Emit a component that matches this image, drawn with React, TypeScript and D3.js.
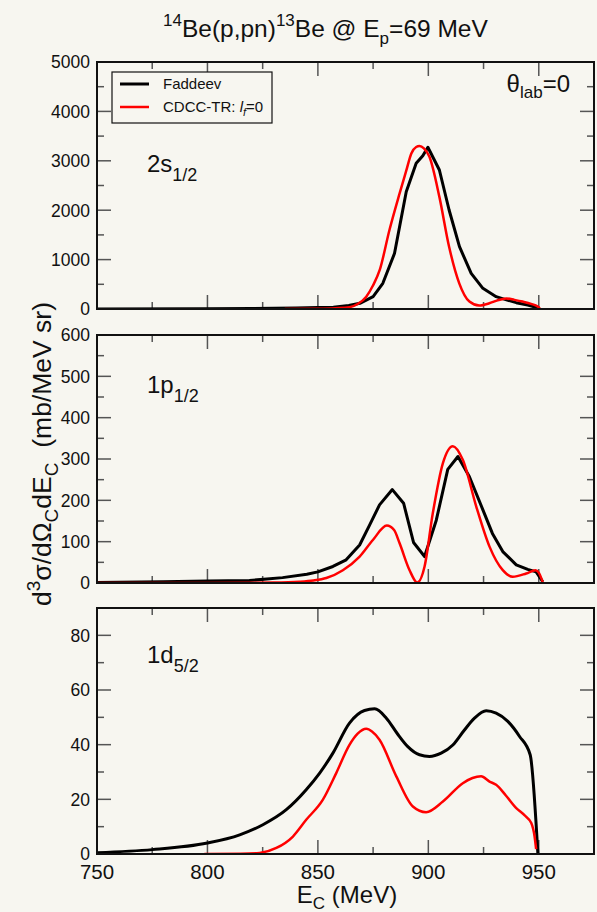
import React from 'react';
import * as d3 from 'd3';

const W = 597;
const H = 912;
const BG = '#f7f6f0';
const FONT = '"Liberation Sans", Arial, Helvetica, sans-serif';

const xDomain: [number, number] = [750, 975];
const xMajorTicks = [750, 800, 850, 900, 950];
const xMinorTicks = [775, 825, 875, 925];

// Panel 1: 2s1/2
const s12Faddeev: [number, number][] = [
  [750, 0], [800, 5], [820, 10], [840, 20], [850, 28], [857, 35], [864, 70], [869, 115], [875, 250],
  [879.4, 520], [884.7, 1127], [890, 2375], [894.5, 2950], [897.5, 3100], [899.8, 3275], [905, 2814],
  [909.4, 2004], [914.1, 1261], [919.4, 722], [924.7, 418], [930.7, 250], [935, 190], [939.8, 128],
  [945, 80], [950.3, 15],
];
const s12Cdcc: [number, number][] = [
  [835, 0], [850, 5], [858, 15], [864.3, 35], [868, 100], [871.9, 250], [875, 480], [878, 790],
  [882.4, 1600], [887, 2340], [890, 2800], [892.3, 3150], [894.5, 3280], [896, 3300], [898, 3250],
  [900.5, 3080], [905, 2270], [909.4, 1260], [914, 520], [918.6, 150], [923, 70], [927.6, 115],
  [931, 170], [935.2, 215], [939, 185], [942.7, 150], [946.5, 105], [949.5, 50], [950.5, 10],
];

// Panel 2: 1p1/2
const p12Faddeev: [number, number][] = [
  [750, 1], [780, 3], [800, 5], [819, 6], [834, 13], [845, 21], [850, 27], [856.8, 40], [862.8, 56],
  [868.9, 92], [873.4, 140], [877.9, 189], [883.7, 226], [888.8, 193], [893.3, 98], [898.3, 64],
  [903.6, 152], [908.8, 275], [913.4, 306], [918.6, 257], [924.7, 177], [929, 120], [933.7, 76],
  [939.8, 44], [945, 33], [948.8, 27], [951.8, 3],
];
const p12Cdcc: [number, number][] = [
  [750, 0], [800, 0], [830, 1], [841.7, 3], [848, 6], [853.8, 12], [861.3, 31], [868.9, 64],
  [874.9, 104], [881.2, 139], [884.5, 128], [887, 96], [891.5, 31], [895, 1], [898.3, 40],
  [902, 168], [906.6, 290], [911.1, 331], [915.6, 298], [921.7, 185], [927.7, 88], [933.7, 31],
  [938.2, 15], [944.3, 23], [948.5, 31], [950, 25], [951.8, 2],
];

// Panel 3: 1d5/2
const d52Faddeev: [number, number][] = [
  [750, 0.5], [775, 1.6], [800, 4], [814.6, 7], [825.1, 10.7], [835.7, 16.2], [844.7, 23.5],
  [850.8, 29.6], [856.8, 36.9], [864.3, 47.9], [871.1, 52.5], [875.7, 53.1], [881, 49.7],
  [886, 44], [890.7, 39.3], [896, 36.3], [900.5, 35.7], [905.8, 36.9], [911.1, 39.9], [916, 45],
  [920.9, 49.7], [926.2, 52.4], [930.7, 51.5], [936, 48.5], [941.3, 43], [946.1, 36.3], [949.6, 0],
];
const d52Cdcc: [number, number][] = [
  [798.6, 0], [815, 0.1], [823.6, 0.4], [831.2, 2.2], [838.7, 6.4], [844.7, 12.5], [852.2, 19.8],
  [858.3, 29.6], [864.3, 39.9], [868, 44], [871.9, 45.8], [874.5, 44.8], [877.9, 41.8], [885.5, 28.4],
  [893, 17.4], [899, 15.3], [906.6, 19.2], [915.6, 25.9], [920, 27.8], [923.9, 28.4], [927.7, 26.5],
  [930.7, 25.3], [935, 21.5], [939.8, 16.8], [943.5, 14.2], [946.6, 11.3], [948.1, 6.4], [948.8, 1.8],
];

const panelTitles = ['2s', '1p', '1d'];
const panelSubs = ['1/2', '1/2', '5/2'];
const yMaxes = [5000, 600, 90];
const yMajorSteps = [1000, 100, 20];
const yMajorTopLimit = [5000, 600, 80];

const legendLabels = ['Faddeev', 'CDCC-TR: '];

const X0 = 97;
const X1 = 594;
const panelTops = [62, 335, 608];
const panelBottoms = [309, 583, 854];
const labelBaselines = [172, 393, 663];

const xScale = d3.scaleLinear().domain(xDomain).range([X0, X1]);

function Panel({ idx, faddeev, cdcc, smoothBlack }: { idx: number; faddeev: [number, number][]; cdcc: [number, number][]; smoothBlack: boolean }) {
  const top = panelTops[idx];
  const bottom = panelBottoms[idx];
  const yScale = d3.scaleLinear().domain([0, yMaxes[idx]]).range([bottom, top]);
  const majorY = d3.range(0, yMajorTopLimit[idx] + 1e-9, yMajorSteps[idx]);
  const minorY = d3.range(yMajorSteps[idx] / 2, yMaxes[idx], yMajorSteps[idx]);
  const lineBlack = d3.line<[number, number]>()
    .x((d) => xScale(d[0]))
    .y((d) => yScale(d[1]))
    .curve(smoothBlack ? d3.curveMonotoneX : d3.curveLinear);
  const lineRed = d3.line<[number, number]>()
    .x((d) => xScale(d[0]))
    .y((d) => yScale(d[1]))
    .curve(d3.curveMonotoneX);
  const clipId = `clip${idx}`;
  const MAJ = 14;
  const MIN = 7;
  const tickColor = '#555';
  const isBottom = idx === 2;
  return (
    <g>
      <defs>
        <clipPath id={clipId}>
          <rect x={X0} y={top} width={X1 - X0} height={bottom - top} />
        </clipPath>
      </defs>
      {majorY.map((v) => (
        <g key={`ym${v}`}>
          <line x1={X0} x2={X0 + MAJ} y1={yScale(v)} y2={yScale(v)} stroke={tickColor} strokeWidth={1.5} />
          <line x1={X1} x2={X1 - MAJ} y1={yScale(v)} y2={yScale(v)} stroke={tickColor} strokeWidth={1.5} />
          <text x={90} y={yScale(v)} dy="0.36em" textAnchor="end" fontSize={17.5} fontFamily={FONT} fill="#111">{v}</text>
        </g>
      ))}
      {minorY.map((v) => (
        <g key={`yn${v}`}>
          <line x1={X0} x2={X0 + MIN} y1={yScale(v)} y2={yScale(v)} stroke={tickColor} strokeWidth={1.5} />
          <line x1={X1} x2={X1 - MIN} y1={yScale(v)} y2={yScale(v)} stroke={tickColor} strokeWidth={1.5} />
        </g>
      ))}
      {xMajorTicks.map((v) => (
        <g key={`xm${v}`}>
          <line x1={xScale(v)} x2={xScale(v)} y1={bottom} y2={bottom - MAJ} stroke={tickColor} strokeWidth={1.5} />
          <line x1={xScale(v)} x2={xScale(v)} y1={top} y2={top + MAJ} stroke={tickColor} strokeWidth={1.5} />
          {isBottom && (
            <text x={xScale(v)} y={879} textAnchor="middle" fontSize={20.5} fontFamily={FONT} fill="#111">{v}</text>
          )}
        </g>
      ))}
      {xMinorTicks.map((v) => (
        <g key={`xn${v}`}>
          <line x1={xScale(v)} x2={xScale(v)} y1={bottom} y2={bottom - MIN} stroke={tickColor} strokeWidth={1.5} />
          <line x1={xScale(v)} x2={xScale(v)} y1={top} y2={top + MIN} stroke={tickColor} strokeWidth={1.5} />
        </g>
      ))}
      <g clipPath={`url(#${clipId})`}>
        <path d={lineBlack(faddeev) || ''} fill="none" stroke="#000" strokeWidth={3} strokeLinejoin="round" />
        <path d={lineRed(cdcc) || ''} fill="none" stroke="#ff0000" strokeWidth={2.5} strokeLinejoin="round" />
      </g>
      <rect x={X0} y={top} width={X1 - X0} height={bottom - top} fill="none" stroke="#111" strokeWidth={2} />
      <text x={147} y={labelBaselines[idx]} fontSize={24} fontFamily={FONT} fill="#111">
        {panelTitles[idx]}
        <tspan fontSize={18} dy={9}>{panelSubs[idx]}</tspan>
      </text>
    </g>
  );
}

export default function App() {
  return (
    <svg width={W} height={H} style={{ position: 'absolute', left: 0, top: 0, background: BG }} xmlns="http://www.w3.org/2000/svg">
      <rect x={0} y={0} width={W} height={H} fill={BG} />
      <text x={163} y={37} fontSize={24.5} fontFamily={FONT} fill="#111">
        <tspan fontSize={17} dy={-11}>14</tspan>
        <tspan dy={11}>Be(p,pn)</tspan>
        <tspan fontSize={17} dy={-11}>13</tspan>
        <tspan dy={11}>Be @ E</tspan>
        <tspan fontSize={17} dy={7}>p</tspan>
        <tspan dy={-7}>=69 MeV</tspan>
      </text>
      <Panel idx={0} faddeev={s12Faddeev} cdcc={s12Cdcc} smoothBlack={false} />
      <Panel idx={1} faddeev={p12Faddeev} cdcc={p12Cdcc} smoothBlack={false} />
      <Panel idx={2} faddeev={d52Faddeev} cdcc={d52Cdcc} smoothBlack={true} />
      <rect x={112} y={72} width={160} height={51} fill={BG} stroke="#111" strokeWidth={1.2} />
      <line x1={120} x2={149} y1={84} y2={84} stroke="#000" strokeWidth={3} />
      <line x1={120} x2={149} y1={107} y2={107} stroke="#ff0000" strokeWidth={2.5} />
      <text x={163} y={89} fontSize={15} fontFamily={FONT} fill="#111">{legendLabels[0]}</text>
      <text x={163} y={112} fontSize={15} fontFamily={FONT} fill="#111">
        {legendLabels[1]}
        <tspan fontStyle="italic">l</tspan>
        <tspan fontSize={11} fontStyle="italic" dy={4}>f</tspan>
        <tspan dy={-4}>=0</tspan>
      </text>
      <text x={570} y={92} textAnchor="end" fontSize={24} fontFamily={FONT} fill="#111">
        θ
        <tspan fontSize={17} dy={6}>lab</tspan>
        <tspan dy={-6}>=0</tspan>
      </text>
      <text x={347} y={903} textAnchor="middle" fontSize={24} fontFamily={FONT} fill="#111">
        E
        <tspan fontSize={17} dy={6}>C</tspan>
        <tspan dy={-6}> (MeV)</tspan>
      </text>
      <text transform="translate(51,454) rotate(-90)" textAnchor="middle" fontSize={26.5} fontFamily={FONT} fill="#111">
        d
        <tspan fontSize={19} dy={-11}>3</tspan>
        <tspan dy={11}>σ/dΩ</tspan>
        <tspan fontSize={19} dy={7}>C</tspan>
        <tspan dy={-7}>dE</tspan>
        <tspan fontSize={19} dy={7}>C</tspan>
        <tspan dy={-7}>{'\u00a0\u00a0(mb/MeV sr)'}</tspan>
      </text>
    </svg>
  );
}
